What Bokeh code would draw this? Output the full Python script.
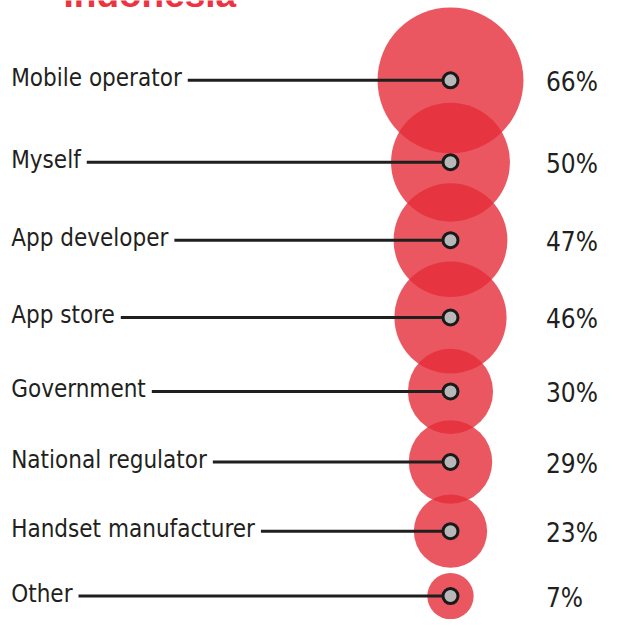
from bokeh.plotting import figure
from bokeh.models import Range1d, ColumnDataSource
from bokeh.core.properties import value
from bokeh.embed import file_html
from bokeh.resources import INLINE

title = "Indonesia"
labels = ["Mobile operator", "Myself", "App developer", "App store",
          "Government", "National regulator", "Handset manufacturer", "Other"]
values = [66, 50, 47, 46, 30, 29, 23, 7]

W, H = 610, 619
s = 0.974            # overall layout scale so the whole fits the window
col_x = 462 * s      # bubble column
label_x = 11 * s
pct_x = 560 * s
top_y = 82 * s
pad = 6
r0, rk = 17.7 * s, 0.867 * s     # bubble radius (px) = r0 + rk * value
gap0, gapk = 52.3 * s, 0.233     # row spacing depends on neighbouring radii

radii = [r0 + rk * v for v in values]
ys = [top_y]
for i in range(1, len(values)):
    ys.append(ys[-1] + gap0 + gapk * (radii[i - 1] + radii[i]))

src = ColumnDataSource(dict(
    x=[col_x] * len(values), y=ys, r=radii, lab=labels,
    pct=[f"{v}%" for v in values],
    lx=[label_x - pad] * len(values), sx=[label_x + 4] * len(values),
    px=[pct_x] * len(values),
    ly=[y - 2 for y in ys], py=[y + 2 for y in ys],
))

p = figure(width=W, height=H, output_backend="svg", toolbar_location=None,
           x_range=Range1d(0, W), y_range=Range1d(H, 0),
           min_border=0, outline_line_color=None)
p.axis.visible = False
p.grid.visible = False
p.background_fill_color = "white"
p.border_fill_color = "white"

p.circle("x", "y", radius="r", radius_units="screen", source=src,
         fill_color="#e52d3a", fill_alpha=0.8, line_color=None)

p.segment(x0="sx", y0="y", x1="x", y1="y", source=src,
          line_color="#1f1f1f", line_width=3)

p.scatter("x", "y", size=15, source=src, fill_color="#b8b8b8",
          line_color="#1a1a1a", line_width=3)

FONT = value("'DejaVu Sans Condensed', Lato")

p.text("lx", "ly", text="lab", source=src, text_font=FONT,
       text_font_size="24px", text_color="#231f20", text_baseline="middle",
       background_fill_color="white", padding=pad)

p.text("px", "py", text="pct", source=src, text_font=FONT,
       text_font_size="26px", text_color="#231f20", text_baseline="middle")

p.text(x=[63], y=[-6], text=[title], text_font=value("Liberation Sans"),
       text_font_style="bold", text_font_size="37px", text_color="#ee3340",
       text_baseline="middle")

open("out.html", "w").write(file_html(p, INLINE))
